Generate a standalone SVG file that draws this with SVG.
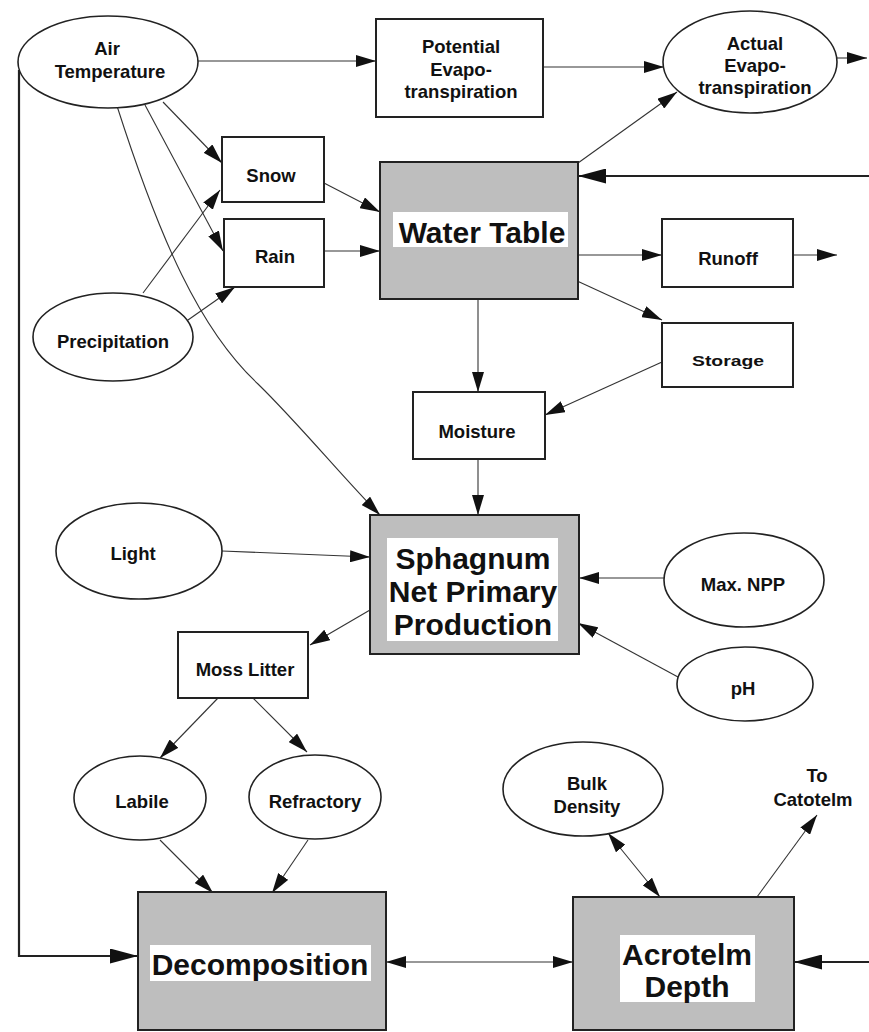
<svg xmlns="http://www.w3.org/2000/svg" width="869" height="1032" viewBox="0 0 869 1032">
<style>
.box{fill:#fff;stroke:#222;stroke-width:2}
.gbox{fill:#bebebe;stroke:#222;stroke-width:2}
.lab{fill:#fff;stroke:none}
.ell{fill:#fff;stroke:#222;stroke-width:1.6}
.t{font-family:"Liberation Sans",Arial,sans-serif;font-weight:bold;font-size:18.5px;fill:#111;text-anchor:middle}
.T{font-family:"Liberation Sans",Arial,sans-serif;font-weight:bold;font-size:30px;fill:#111;text-anchor:middle}
.c{fill:none;stroke:#333;stroke-width:1.1;marker-end:url(#ah)}
.k{fill:none;stroke:#222;stroke-width:2.2;marker-end:url(#ahk)}
.d{marker-start:url(#ah)}
</style>
<defs>
<marker id="ah" markerUnits="userSpaceOnUse" markerWidth="20" markerHeight="12" viewBox="0 0 20 12" refX="20" refY="6" orient="auto-start-reverse">
<path d="M0,0 L20,6 L0,12 z" fill="#111"/>
</marker>
<marker id="ahk" markerUnits="userSpaceOnUse" markerWidth="28" markerHeight="15" viewBox="0 0 28 15" refX="28" refY="7.5" orient="auto">
<path d="M0,0 L28,7.5 L0,15 z" fill="#111"/>
</marker>
</defs>
<rect width="869" height="1032" fill="#fff"/>

<g id="connectors">
<path class="c" d="M198,61 L376,61"/>
<path class="c" d="M543,67 L664,67"/>
<path class="c" d="M837,58 L867,58"/>
<path class="c" d="M163,102 L222,163"/>
<path class="c" d="M145,105 L223,251"/>
<path class="c" d="M117,106 C160,240 200,330 258,384 C300,425 345,480 380,515"/>
<path class="c" d="M143,293 L220,190"/>
<path class="c" d="M188,320 L235,287"/>
<path class="c" d="M324,183 L380,212"/>
<path class="c" d="M324,251 L380,251"/>
<path class="c" d="M578,163 L677,92"/>
<path class="k" d="M869,176 L578,176"/>
<path class="c" d="M578,255 L662,255"/>
<path class="c" d="M793,255 L837,255"/>
<path class="c" d="M575,280 L662,320"/>
<path class="c" d="M662,362 L545,415"/>
<path class="c" d="M478,299 L478,392"/>
<path class="c" d="M478,459 L478,515"/>
<path class="c" d="M222,551 L370,557"/>
<path class="c" d="M664,578 L579,578"/>
<path class="c" d="M678,677 L578,623"/>
<path class="c" d="M370,610 L310,645"/>
<path class="c" d="M218,698 L160,758"/>
<path class="c" d="M253,698 L307,752"/>
<path class="c" d="M160,840 L213,893"/>
<path class="c" d="M308,840 L272,893"/>
<path class="k" d="M19,70 L19,956 L138,956"/>
<path class="c d" d="M386,962 L573,962"/>
<path class="c d" d="M608,833 L660,897"/>
<path class="c" d="M757,897 L817,815"/>
<path class="k" d="M869,962 L794,962"/>
</g>

<g id="air-temperature">
<ellipse class="ell" cx="108" cy="62" rx="90" ry="46"/>
<text class="t" x="107" y="55">Air</text>
<text class="t" x="110" y="78">Temperature</text>
</g>
<g id="potential-evapotranspiration">
<rect class="box" x="376" y="19" width="167" height="98"/>
<text class="t" x="461" y="53">Potential</text>
<text class="t" x="461" y="76">Evapo-</text>
<text class="t" x="461" y="98">transpiration</text>
</g>
<g id="actual-evapotranspiration">
<ellipse class="ell" cx="750" cy="62" rx="87" ry="51"/>
<text class="t" x="755" y="50">Actual</text>
<text class="t" x="755" y="72">Evapo-</text>
<text class="t" x="755" y="94">transpiration</text>
</g>
<g id="snow">
<rect class="box" x="222" y="137" width="102" height="65"/>
<text class="t" x="271" y="182">Snow</text>
</g>
<g id="rain">
<rect class="box" x="224" y="219" width="100" height="68"/>
<text class="t" x="275" y="263">Rain</text>
</g>
<g id="precipitation">
<ellipse class="ell" cx="113" cy="337" rx="80" ry="44"/>
<text class="t" x="113" y="348">Precipitation</text>
</g>
<g id="water-table">
<rect class="gbox" x="380" y="162" width="198" height="137"/>
<rect class="lab" x="393" y="212" width="175" height="35"/>
<text class="T" x="482" y="243">Water Table</text>
</g>
<g id="runoff">
<rect class="box" x="662" y="219" width="131" height="68"/>
<text class="t" x="728" y="265">Runoff</text>
</g>
<g id="storage">
<rect class="box" x="662" y="323" width="131" height="64"/>
<text class="t" x="728" y="366" style="font-size:15.5px" textLength="72" lengthAdjust="spacingAndGlyphs">Storage</text>
</g>
<g id="moisture">
<rect class="box" x="413" y="392" width="132" height="67"/>
<text class="t" x="477" y="438">Moisture</text>
</g>
<g id="sphagnum-npp">
<rect class="gbox" x="370" y="515" width="209" height="139"/>
<rect class="lab" x="387" y="538" width="171" height="103"/>
<text class="T" x="473" y="569">Sphagnum</text>
<text class="T" x="473" y="602">Net Primary</text>
<text class="T" x="473" y="635">Production</text>
</g>
<g id="light">
<ellipse class="ell" cx="139" cy="551" rx="83" ry="48"/>
<text class="t" x="133" y="560">Light</text>
</g>
<g id="max-npp">
<ellipse class="ell" cx="744" cy="580" rx="80" ry="47"/>
<text class="t" x="743" y="591">Max. NPP</text>
</g>
<g id="ph">
<ellipse class="ell" cx="745" cy="684" rx="68" ry="37"/>
<text class="t" x="743" y="695">pH</text>
</g>
<g id="moss-litter">
<rect class="box" x="178" y="632" width="130" height="66"/>
<text class="t" x="245" y="676">Moss Litter</text>
</g>
<g id="labile">
<ellipse class="ell" cx="140" cy="798" rx="66" ry="42"/>
<text class="t" x="142" y="808">Labile</text>
</g>
<g id="refractory">
<ellipse class="ell" cx="315" cy="797" rx="66" ry="42"/>
<text class="t" x="315" y="808">Refractory</text>
</g>
<g id="bulk-density">
<ellipse class="ell" cx="583" cy="789" rx="80" ry="47"/>
<text class="t" x="587" y="790">Bulk</text>
<text class="t" x="587" y="813">Density</text>
</g>
<g id="to-catotelm">
<text class="t" x="817" y="782">To</text>
<text class="t" x="813" y="806">Catotelm</text>
</g>
<g id="decomposition">
<rect class="gbox" x="138" y="892" width="248" height="138"/>
<rect class="lab" x="150" y="945" width="221" height="36"/>
<text class="T" x="260" y="975">Decomposition</text>
</g>
<g id="acrotelm-depth">
<rect class="gbox" x="573" y="897" width="221" height="133"/>
<rect class="lab" x="620" y="935" width="135" height="67"/>
<text class="T" x="687" y="965">Acrotelm</text>
<text class="T" x="687" y="997">Depth</text>
</g>
</svg>
